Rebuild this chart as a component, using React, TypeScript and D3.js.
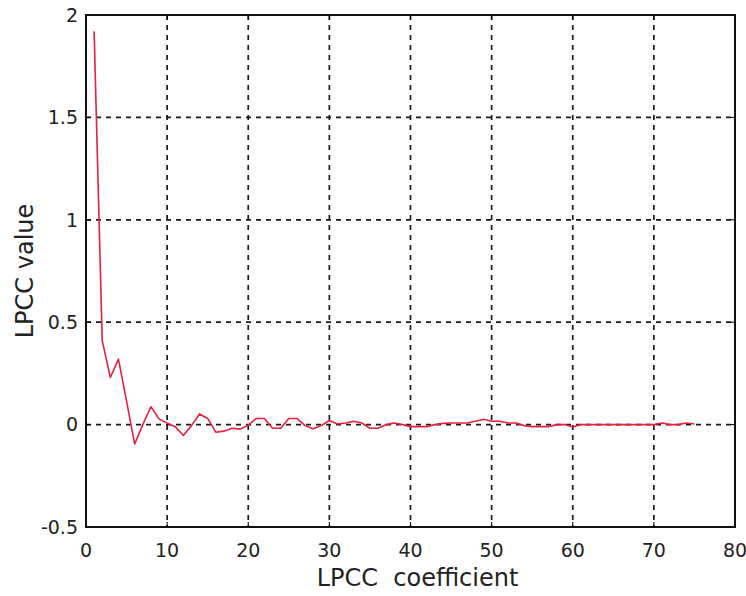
import * as d3 from "d3";

const W = 746;
const H = 596;
const MARGIN = { top: 15, right: 11, bottom: 69, left: 86 };

// LPCC values for coefficients 1..75
const lpccValues = [
  1.92, 0.41, 0.23, 0.32, 0.115, -0.095, 0.0, 0.087, 0.028, 0.007,
  -0.01, -0.053, -0.005, 0.052, 0.03, -0.037, -0.032, -0.018, -0.022, -0.003,
  0.03, 0.03, -0.018, -0.018, 0.03, 0.03, -0.005, -0.02, -0.005, 0.02,
  0.003, 0.008, 0.016, 0.008, -0.018, -0.018, 0.0, 0.008, 0.0, -0.01,
  -0.01, -0.01, 0.0, 0.006, 0.008, 0.008, 0.008, 0.016, 0.026, 0.016,
  0.016, 0.008, 0.008, -0.005, -0.01, -0.01, -0.01, 0.0, 0.0, -0.012,
  0.0, 0.0, 0.0, 0.0, 0.0, 0.0, 0.0, 0.0, 0.0, 0.0,
  0.008, 0.0, 0.0, 0.008, 0.003,
];
const coefficients = lpccValues.map((_, i) => i + 1);

const xTicks = [0, 10, 20, 30, 40, 50, 60, 70, 80];
const yTicks = [-0.5, 0, 0.5, 1, 1.5, 2];

const FONT = "'DejaVu Sans', sans-serif";

export default function App() {
  const boundsWidth = W - MARGIN.left - MARGIN.right;
  const boundsHeight = H - MARGIN.top - MARGIN.bottom;

  const xScale = d3.scaleLinear().domain([0, 80]).range([0, boundsWidth]);
  const yScale = d3.scaleLinear().domain([-0.5, 2]).range([boundsHeight, 0]);

  const linePath = d3
    .line<number>()
    .x((_, i) => xScale(coefficients[i]))
    .y((d) => yScale(d))(lpccValues);

  return (
    <div style={{ position: "absolute", left: 0, top: 0 }}>
      <svg width={W} height={H} style={{ display: "block", background: "#fff" }}>
        <g transform={`translate(${MARGIN.left},${MARGIN.top})`}>
          {/* grid */}
          {xTicks.slice(1, -1).map((t) => (
            <line
              key={"gx" + t}
              x1={xScale(t)}
              x2={xScale(t)}
              y1={0}
              y2={boundsHeight}
              stroke="#1a1a1a"
              strokeWidth={1.7}
              strokeDasharray="5,5"
            />
          ))}
          {yTicks.slice(1, -1).map((t) => (
            <line
              key={"gy" + t}
              x1={0}
              x2={boundsWidth}
              y1={yScale(t)}
              y2={yScale(t)}
              stroke="#1a1a1a"
              strokeWidth={1.7}
              strokeDasharray="5,5"
            />
          ))}

          {/* ticks */}
          {xTicks.map((t) => (
            <g key={"tx" + t}>
              <line x1={xScale(t)} x2={xScale(t)} y1={boundsHeight} y2={boundsHeight - 5} stroke="#000" />
              <line x1={xScale(t)} x2={xScale(t)} y1={0} y2={5} stroke="#000" />
              <text
                x={xScale(t)}
                y={boundsHeight + 30}
                textAnchor="middle"
                fontFamily={FONT}
                fontSize={19}
                fill="#222"
              >
                {t}
              </text>
            </g>
          ))}
          {yTicks.map((t) => (
            <g key={"ty" + t}>
              <line x1={0} x2={5} y1={yScale(t)} y2={yScale(t)} stroke="#000" />
              <line x1={boundsWidth} x2={boundsWidth - 5} y1={yScale(t)} y2={yScale(t)} stroke="#000" />
              <text
                x={-8}
                y={yScale(t)}
                dy="0.36em"
                textAnchor="end"
                fontFamily={FONT}
                fontSize={19}
                fill="#222"
              >
                {t}
              </text>
            </g>
          ))}

          {/* data */}
          <path d={linePath ?? ""} fill="none" stroke="#e8203c" strokeWidth={1.6} strokeLinejoin="round" />

          {/* frame */}
          <rect x={0} y={0} width={boundsWidth} height={boundsHeight} fill="none" stroke="#111" strokeWidth={2} />
        </g>

        <text
          x={MARGIN.left + boundsWidth / 2 + 7}
          y={H - 10}
          textAnchor="middle"
          fontFamily={FONT}
          fontSize={24}
          fill="#222"
          style={{ whiteSpace: "pre" }}
        >
          {"LPCC  coefficient"}
        </text>
        <text
          transform={`translate(33,${MARGIN.top + boundsHeight / 2}) rotate(-90)`}
          textAnchor="middle"
          fontFamily={FONT}
          fontSize={24}
          fill="#222"
        >
          LPCC value
        </text>
      </svg>
    </div>
  );
}
